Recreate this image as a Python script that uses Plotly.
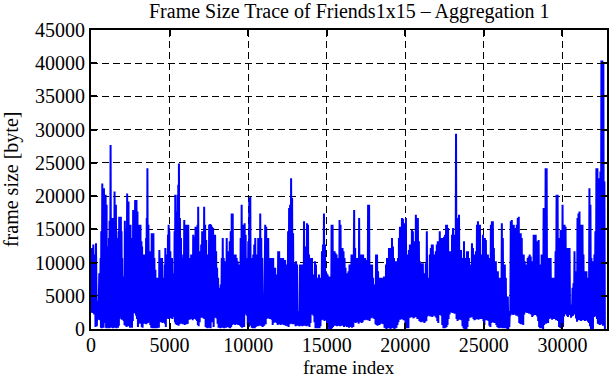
import plotly.graph_objects as go

# ---- data (frame index of a local peak, its size, the trough after it) ----
frame_idx = [
    # 0 - 5600
    42, 148, 253, 317, 422, 528, 612, 655, 718, 781,
    824, 887, 929, 993, 1014, 1098, 1140, 1183, 1246, 1309,
    1373, 1436, 1500, 1542, 1584, 1647, 1690, 1753, 1795, 1859,
    1901, 1943, 1985, 2049, 2112, 2154, 2218, 2302, 2344, 2387,
    2450, 2513, 2577, 2640, 2682, 2746, 2809, 2851, 2893, 2957,
    3020, 3062, 3105, 3147, 3210, 3252, 3316, 3379, 3421, 3464,
    3506, 3548, 3590, 3654, 3738, 3802, 3865, 3928, 3971, 4034,
    4097, 4161, 4224, 4287, 4351, 4414, 4477, 4520, 4583, 4625,
    4689, 4731, 4794, 4836, 4900, 4942, 4984, 5048, 5111, 5153,
    5217, 5259, 5322, 5364, 5428, 5512, 5555, 5597,
    # 5600 - 11000
    5660, 5724, 5787, 5871, 5935, 5998, 6061, 6125, 6188, 6252,
    6315, 6378, 6442, 6505, 6589, 6653, 6716, 6780, 6822, 6885,
    6948, 7012, 7075, 7139, 7202, 7265, 7329, 7392, 7455, 7519,
    7582, 7645, 7709, 7772, 7836, 7899, 7962, 8026, 8089, 8152,
    8216, 8258, 8321, 8385, 8448, 8511, 8575, 8638, 8701, 8765,
    8828, 8892, 8955, 9018, 9082, 9145, 9208, 9272, 9335, 9398,
    9462, 9525, 9588, 9652, 9715, 9779, 9842, 9884, 9948, 10011,
    10074, 10138, 10201, 10264, 10328, 10391, 10454, 10518, 10581, 10644,
    10708, 10771, 10835, 10898, 10961,
    # 11000 - 16700
    11088, 11151, 11215, 11278, 11341, 11405, 11468, 11532, 11595, 11658,
    11722, 11785, 11848, 11912, 11975, 12038, 12102, 12165, 12228, 12292,
    12355, 12419, 12482, 12545, 12609, 12672, 12735, 12799, 12862, 12925,
    12989, 13052, 13116, 13179, 13242, 13306, 13369, 13432, 13496, 13559,
    13622, 13686, 13749, 13812, 13876, 13939, 14003, 14066, 14129, 14193,
    14256, 14319, 14383, 14446, 14509, 14573, 14636, 14700, 14763, 14826,
    14890, 14953, 14995, 15059, 15122, 15185, 15249, 15312, 15375, 15439,
    15502, 15565, 15629, 15692, 15756, 15819, 15882, 15946, 16009, 16072,
    16136, 16199, 16262, 16326, 16389, 16452, 16516, 16579, 16643,
    # 16700 - 22400
    16748, 16812, 16875, 16938, 17002, 17065, 17128, 17192, 17255, 17318,
    17382, 17445, 17508, 17572, 17635, 17699, 17762, 17825, 17889, 17952,
    18015, 18079, 18142, 18205, 18269, 18332, 18396, 18459, 18522, 18586,
    18649, 18712, 18776, 18839, 18902, 18966, 19029, 19092, 19156, 19219,
    19283, 19346, 19409, 19473, 19536, 19599, 19663, 19726, 19789, 19853,
    19916, 19980, 20043, 20106, 20170, 20233, 20296, 20360, 20423, 20486,
    20550, 20613, 20676, 20740, 20803, 20867, 20930, 20993, 21057, 21120,
    21183, 21247, 21310, 21373, 21437, 21500, 21564, 21627, 21690, 21754,
    21817, 21880, 21944, 22007, 22070, 22134, 22197, 22260, 22324, 22387,
    # 22400 - 27800
    22472, 22535, 22598, 22662, 22725, 22788, 22852, 22915, 22979, 23042,
    23105, 23169, 23232, 23295, 23359, 23422, 23485, 23549, 23612, 23676,
    23739, 23802, 23866, 23929, 23992, 24056, 24119, 24182, 24246, 24309,
    24372, 24436, 24499, 24563, 24626, 24689, 24753, 24816, 24879, 24943,
    25006, 25069, 25133, 25196, 25260, 25323, 25386, 25450, 25513, 25576,
    25640, 25703, 25766, 25830, 25893, 25956, 26020, 26083, 26147, 26210,
    26273, 26337, 26400, 26463, 26527, 26590, 26653, 26717, 26780, 26844,
    26907, 26970, 27034, 27097, 27160, 27224, 27287, 27350, 27414, 27477,
    27540, 27604, 27667, 27731, 27794,
    # 27800 - end
    27857, 27921, 27984, 28047, 28111, 28174, 28237, 28301, 28364, 28428,
    28491, 28554, 28618, 28681, 28744, 28808, 28871, 28934, 28998, 29061,
    29124, 29188, 29251, 29315, 29378, 29441, 29505, 29568, 29631, 29695,
    29758, 29821, 29885, 29948, 30012, 30075, 30138, 30202, 30265, 30328,
    30392, 30455, 30518, 30582, 30645, 30708, 30772, 30835, 30899, 30962,
    31025, 31089, 31152, 31215, 31279, 31342, 31405, 31469, 31532, 31596,
    31659, 31722, 31786, 31849, 31912, 31976, 32039, 32102, 32166, 32229,
    32292, 32356, 32419, 32483, 32546, 32609, 32673,
]

peak_size = [
    12200, 12700, 11200, 12900, 4200, 8400, 10700, 14700, 21900, 17700,
    21200, 15700, 20200, 18700, 12400, 10900, 13700, 16300, 27700, 16700,
    14700, 16700, 20700, 17700, 18700, 13700, 11200, 14700, 16900, 16200,
    16900, 14700, 10700, 6700, 7900, 16300, 14700, 20400, 17700, 19200,
    14700, 15700, 7900, 13700, 17900, 17200, 19400, 17700, 19400, 17700,
    14700, 15700, 13700, 15700, 13200, 12400, 11200, 11200, 9700, 11200,
    13700, 16700, 24200, 15700, 11700, 10700, 14400, 13700, 14400, 10700,
    8900, 7700, 4700, 7700, 11900, 9700, 10700, 10700, 7700, 4700,
    9700, 12200, 10700, 11200, 14200, 15700, 14700, 11700, 9700, 10700,
    7700, 8400, 14700, 20200, 17700, 20200, 21700, 24900,
    16700, 13700, 10700, 11200, 16400, 15700, 13700, 15700, 15700, 10700,
    9700, 11200, 9700, 14200, 13900, 15400, 13200, 15700, 18400, 11700,
    10700, 12700, 14700, 13700, 18400, 15700, 13400, 11200, 9700, 15700,
    15800, 15700, 15400, 15200, 10700, 14200, 11700, 9200, 7700, 6200,
    5700, 6700, 10700, 13700, 10700, 10200, 10200, 13700, 11700, 10700,
    13200, 14700, 17400, 17400, 11200, 11200, 11200, 10700, 10200, 7700,
    9700, 13700, 18700, 15700, 15700, 15900, 14200, 10700, 9700, 13200,
    19700, 19900, 10700, 9200, 11200, 12700, 13700, 9700, 11200, 13700,
    12700, 17400, 13700, 10700, 5200,
    15700, 15400, 13700, 13700, 10700, 10700, 8900, 10700, 10700, 8900,
    9200, 8200, 6200, 11700, 11700, 8700, 10700, 9700, 10700, 10400,
    10400, 9700, 6700, 14700, 18200, 18700, 22700, 19700, 14400, 8700,
    9900, 10200, 9700, 2700, 2400, 9700, 9700, 4700, 9700, 16200,
    12400, 11700, 15900, 15700, 11200, 10700, 10700, 10700, 3700, 8200,
    10200, 9700, 7700, 7200, 8200, 7200, 7700, 11700, 12700, 17400,
    12700, 8700, 8400, 8200, 7700, 7900, 7700, 15700, 15700, 10700,
    11700, 11400, 11200, 7700, 10700, 16400, 15700, 8700, 12200, 11700,
    10700, 9200, 7700, 8400, 8700, 9700, 2700, 11200, 11200,
    17900, 12200, 10200, 10700, 10700, 16700, 11200, 11200, 11200, 11200,
    10200, 10700, 10400, 8700, 18700, 18700, 9700, 7700, 9700, 7700,
    6400, 6700, 11200, 11200, 8700, 7700, 7700, 7700, 7700, 6700,
    7900, 7900, 9700, 10700, 8700, 12200, 12200, 10700, 13700, 12400,
    10700, 9900, 10200, 10200, 10700, 13700, 15400, 12700, 16700, 16600,
    12700, 15900, 16700, 11200, 11200, 11900, 12700, 11200, 14900, 14700,
    13200, 12700, 17200, 16700, 16700, 13200, 10200, 8700, 9900, 9900,
    7700, 8400, 9900, 14700, 6200, 7700, 11200, 12200, 12700, 12700,
    11200, 10700, 11700, 12700, 13200, 12700, 14700, 13700, 10900, 13700,
    13900, 14200, 15700, 15700, 15200, 11700, 11200, 11700, 14200, 15200,
    14200, 11700, 29400, 16200, 16700, 17200, 11200, 11900, 5700, 10700,
    13200, 10700, 8400, 11700, 11700, 10700, 9700, 8200, 12900, 12200,
    11200, 10700, 11700, 15700, 16200, 15700, 15700, 9700, 11200, 14200,
    12200, 13700, 13400, 10700, 11200, 10700, 10700, 15700, 16200, 16200,
    12200, 10200, 10200, 7700, 8700, 7700, 7200, 7700, 15900, 13700,
    8700, 9700, 7700, 4900, 4900, 2200, 2700, 16200, 16400, 14700,
    15700, 15200, 14400, 15700, 16700, 16900, 14400, 14400, 13700, 11200,
    11200, 10200, 9700, 9700, 10700,
    10900, 11200, 10900, 9700, 10200, 14200, 7700, 14200, 13200, 11200,
    13400, 9700, 9700, 11200, 10700, 18200, 17700, 24200, 24200, 10700,
    10700, 10400, 10700, 7200, 7700, 5700, 7700, 11700, 20200, 20200,
    12900, 13700, 14900, 14900, 18700, 15200, 15700, 15400, 12200, 11700,
    12200, 12200, 3700, 3700, 6200, 6900, 11700, 8700, 7700, 16700,
    17400, 17700, 13700, 15700, 15700, 11200, 8700, 8700, 8700, 6200,
    7700, 21200, 18700, 10700, 9700, 10200, 11200, 14700, 24200, 24200,
    15700, 22700, 23700, 40400, 40400, 40200, 22200,
]

trough_size = [
    2400, 2200, 300, 400, 1400, 1300, 200, 100, 300, 200,
    900, 1000, 200, 100, 300, 200, 100, 400, 200, 300,
    100, 200, 400, 200, 100, 300, 200, 500, 1500, 2000,
    1800, 1400, 1600, 1200, 600, 500, 300, 600, 400, 500,
    200, 400, 200, 1200, 2400, 2500, 2300, 2000, 1500, 300,
    900, 900, 800, 900, 300, 200, 1000, 800, 1100, 1000,
    700, 1000, 900, 1000, 600, 200, 100, 200, 100, 100,
    200, 100, 300, 200, 1200, 1000, 1300, 900, 1200, 1000,
    800, 300, 1600, 1800, 1500, 2000, 1700, 1600, 1900, 1500,
    1800, 2200, 1000, 700, 600, 800, 500, 700,
    800, 900, 700, 800, 600, 900, 700, 800, 1500, 1400,
    1600, 1500, 1300, 1500, 1600, 1400, 1200, 600, 400, 1000,
    1800, 1700, 1900, 1600, 1500, 300, 200, 100, 300, 200,
    100, 1200, 1000, 300, 1700, 1800, 1600, 800, 200, 300,
    100, 200, 500, 200, 100, 400, 200, 500, 300, 200,
    100, 300, 600, 700, 800, 600, 700, 800, 600, 700,
    500, 300, 200, 400, 300, 2200, 2300, 2000, 600, 300,
    1000, 500, 200, 100, 200, 100, 300, 500, 400, 600,
    500, 600, 400, 300, 500,
    700, 1500, 1600, 1700, 1500, 1600, 1400, 600, 900, 1000,
    1100, 900, 600, 800, 700, 600, 800, 700, 600, 700,
    500, 600, 400, 300, 700, 800, 900, 700, 800, 700,
    400, 500, 600, 500, 400, 500, 600, 400, 500, 600,
    500, 400, 500, 600, 300, 900, 2200, 2500, 2000, 1000,
    100, 200, 100, 300, 100, 400, 1300, 1500, 1400, 1200,
    1400, 1300, 600, 300, 0, 0, 0, 100, 300, 500,
    600, 500, 400, 600, 500, 400, 500, 600, 500, 300,
    400, 500, 300, 300, 200, 400, 300, 200, 300,
    1000, 900, 1100, 1000, 800, 1000, 1100, 900, 1000, 1400,
    1300, 1500, 1400, 1300, 1400, 1200, 1600, 1700, 1800, 1600,
    1500, 700, 600, 500, 700, 600, 900, 800, 1000, 700,
    200, 100, 0, 100, 200, 100, 0, 100, 200, 100,
    0, 100, 200, 600, 1000, 1500, 1400, 1600, 1500, 1300,
    1400, 600, 100, 200, 100, 1800, 1700, 1900, 1800, 1600,
    1700, 1900, 1800, 1500, 1700, 1200, 1100, 1000, 1200, 1100,
    900, 1100, 1200, 1900, 2000, 2200, 1900, 2100, 1800, 2000,
    2200, 1900, 1700, 1200, 900, 2100, 2200, 2000, 600, 100,
    100, 200, 300, 600, 1500, 2200, 2500, 2700, 2400, 2600,
    2300, 2400, 1500, 1200, 1500, 1400, 1600, 1300, 400, 100,
    0, 100, 0, 300, 1200, 1800, 1700, 1900, 1800, 1500,
    1300, 1400, 1500, 1600, 1400, 1500, 1700, 1500, 1600, 1200,
    600, 1300, 1400, 1300, 1200, 500, 300, 900, 1100, 1000,
    900, 1000, 600, 300, 200, 100, 200, 300, 100, 200,
    100, 200, 100, 0, 0, 300, 2000, 2200, 2400, 2100,
    2300, 2200, 2000, 2300, 1900, 900, 800, 700, 900, 600,
    2200, 2500, 2700, 2400, 2600,
    2300, 2500, 2200, 1800, 2000, 2300, 2100, 2200, 1900, 1200,
    300, 100, 200, 100, 0, 600, 900, 800, 1000, 900,
    1500, 1700, 1600, 1400, 1700, 1500, 1600, 1300, 1700, 1200,
    300, 200, 100, 200, 300, 1900, 2200, 2400, 2000, 1800,
    2300, 2100, 1700, 1900, 2000, 2400, 2200, 1600, 1100, 1400,
    1300, 1500, 1200, 1400, 1300, 1500, 1200, 1400, 1300, 1100,
    900, 400, 0, 100, 0, 1800, 2000, 1900, 1500, 800,
    700, 600, 700, 800, 500, 700, 0,
]

first_frame_size = 2500
x_ticks = [0, 5000, 10000, 15000, 20000, 25000, 30000]
y_ticks = [0, 5000, 10000, 15000, 20000, 25000, 30000, 35000, 40000, 45000]
x_max = 32840
y_max = 45000

title_text = "Frame Size Trace of Friends1x15 \u2013 Aggregation 1"
x_title = "frame index"
y_title = "frame size [byte]"

assert len(frame_idx) == len(peak_size) == len(trough_size), (
    len(frame_idx), len(peak_size), len(trough_size))

# build the trace: each peak followed by the trough before the next peak
xs = [0]
ys = [first_frame_size]
for i, f in enumerate(frame_idx):
    nxt = frame_idx[i + 1] if i + 1 < len(frame_idx) else f + 64
    xs.append(f)
    ys.append(peak_size[i])
    xs.append((f + nxt) / 2)
    ys.append(trough_size[i])

FONT = "Liberation Serif, Times New Roman, serif"

fig = go.Figure()
fig.add_trace(go.Scatter(
    x=xs, y=ys, mode="lines",
    line=dict(color="#0000ff", width=2, simplify=False),
    hoverinfo="skip", showlegend=False,
))

axis_common = dict(
    showline=True, linecolor="black", linewidth=2, mirror="ticks",
    ticks="inside", ticklen=6, tickwidth=1.5, tickcolor="black",
    showgrid=True, gridcolor="black", gridwidth=1, griddash="7px,4px",
    zeroline=False,
    tickfont=dict(family=FONT, size=20, color="black"),
)

fig.update_xaxes(range=[0, x_max], tickvals=x_ticks,
                 ticktext=[str(v) for v in x_ticks],
                 ticklabelstandoff=-3, **axis_common)
fig.update_yaxes(range=[0, y_max], tickvals=y_ticks,
                 ticktext=[str(v) for v in y_ticks], **axis_common)

fig.update_layout(
    width=611, height=380,
    margin=dict(l=91, r=2, t=30, b=51, pad=0),
    paper_bgcolor="white", plot_bgcolor="white",
    font=dict(family=FONT, size=20, color="black"),
    annotations=[
        dict(text=title_text, xref="paper", yref="paper", x=0.5, y=1.0635,
             xanchor="center", yanchor="middle", showarrow=False,
             font=dict(family=FONT, size=20, color="black")),
        dict(text=x_title, xref="paper", yref="paper", x=0.5, y=-0.1295,
             xanchor="center", yanchor="middle", showarrow=False,
             font=dict(family=FONT, size=19, color="black")),
        dict(text=y_title, xref="paper", yref="paper", x=-0.154, y=0.5,
             xanchor="center", yanchor="middle", showarrow=False,
             textangle=-90,
             font=dict(family=FONT, size=20, color="black")),
    ],
)

fig.write_html("out.html")
